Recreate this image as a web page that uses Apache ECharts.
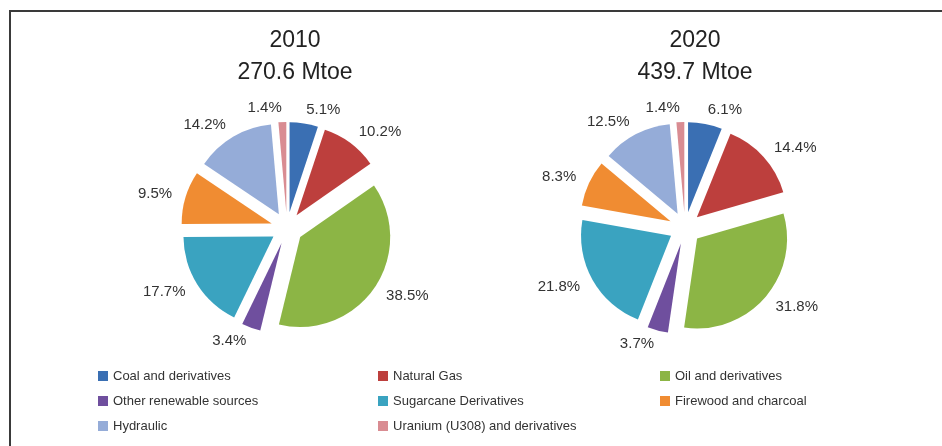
<!DOCTYPE html>
<html>
<head>
<meta charset="utf-8">
<script src="https://cdn.jsdelivr.net/npm/echarts@6/dist/echarts.min.js"></script>
<style>
  html, body { margin: 0; padding: 0; background: #fff; }
  #main { width: 942px; height: 446px; }
</style>
</head>
<body>
<div id="main"></div>
<script>
// 数据
var sources = [
    'Coal and derivatives',
    'Natural Gas',
    'Oil and derivatives',
    'Other renewable sources',
    'Sugarcane Derivatives',
    'Firewood and charcoal',
    'Hydraulic',
    'Uranium (U308) and derivatives'
];
var share2010 = [5.1, 10.2, 38.5, 3.4, 17.7, 9.5, 14.2, 1.4];
var share2020 = [6.1, 14.4, 31.8, 3.7, 21.8, 8.3, 12.5, 1.4];
var titles = ['2010\n270.6 Mtoe', '2020\n439.7 Mtoe'];
var colors = ['#3a6fb3', '#bd3f3d', '#8cb545', '#6f4f9e', '#3aa3c0', '#f08c32', '#95acd8', '#d98c92'];

var myChart = echarts.init(document.getElementById('main'));

function pieData(values) {
    return values.map(function (v, i) {
        return { name: sources[i], value: v, selected: true };
    });
}

function pieSeries(values, cx) {
    return {
        type: 'pie',
        center: [cx, 228],
        radius: [0, 90],
        startAngle: 90,
        clockwise: true,
        selectedMode: 'multiple',
        selectedOffset: 16,
        avoidLabelOverlap: false,
        animation: false,
        data: pieData(values),
        itemStyle: { borderWidth: 0 },
        label: {
            show: true,
            position: 'outside',
            distanceToLabelLine: 0,
            formatter: function (p) { return p.value.toFixed(1) + '%'; },
            color: '#333',
            fontFamily: 'Arial, Liberation Sans, sans-serif',
            fontSize: 15
        },
        labelLine: { show: false, length: 14, length2: 0 },
        emphasis: { disabled: true }
    };
}

// legend 三列
var legendCols = [
    { left: 93, data: [sources[0], sources[3], sources[6]] },
    { left: 373, data: [sources[1], sources[4], sources[7]] },
    { left: 655, data: [sources[2], sources[5]] }
];

var option = {
    color: colors,
    graphic: [{
        type: 'rect',
        shape: { x: 10, y: 11, width: 960, height: 460 },
        style: { fill: 'none', stroke: '#3a3a3a', lineWidth: 2 }
    }],
    title: titles.map(function (t, i) {
        return {
            text: t,
            left: i === 0 ? 290 : 690,
            top: 20,
            textAlign: 'center',
            textStyle: {
                fontFamily: 'Arial, Liberation Sans, sans-serif',
                fontSize: 23,
                fontWeight: 'normal',
                lineHeight: 32,
                color: '#222'
            }
        };
    }),
    legend: legendCols.map(function (c) {
        return {
            orient: 'vertical',
            left: c.left,
            top: 364,
            icon: 'rect',
            itemWidth: 10,
            itemHeight: 10,
            itemGap: 11,
            itemTextGap: 8,
            selectedMode: false,
            data: c.data,
            textStyle: {
                fontFamily: 'Arial, Liberation Sans, sans-serif',
                fontSize: 13,
                lineHeight: 14,
                color: '#333'
            }
        };
    }),
    series: [pieSeries(share2010, 287), pieSeries(share2020, 685)]
};

myChart.setOption(option, true);
</script>
</body>
</html>
